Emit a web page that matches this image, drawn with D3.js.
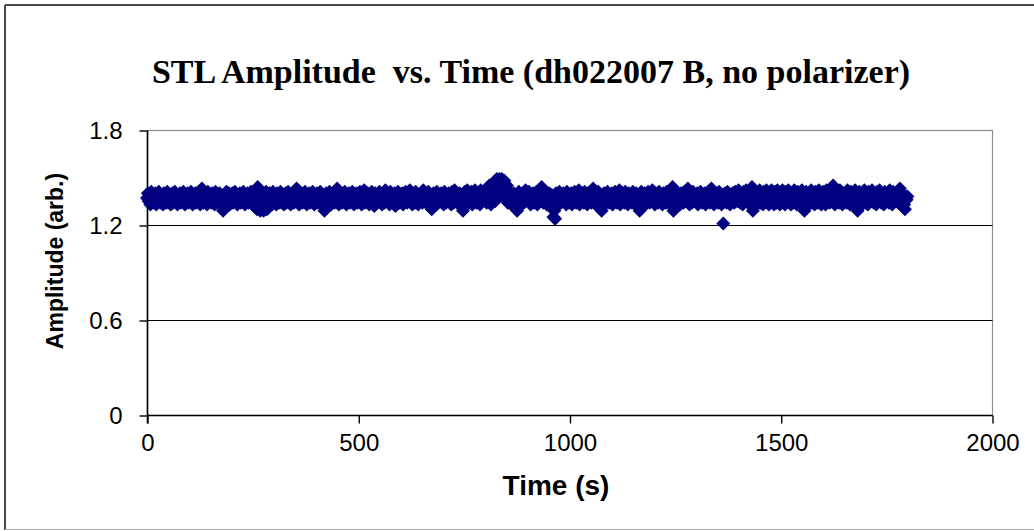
<!DOCTYPE html>
<html>
<head>
<meta charset="utf-8">
<script src="https://cdn.jsdelivr.net/npm/d3@7"></script>
<style>
  html, body { margin: 0; padding: 0; background: #fff; }
  svg { display: block; }
</style>
</head>
<body>
<svg id="chart" width="1034" height="531"></svg>
<script>
// STL amplitude samples, one every 2 s from t = 0 to t = 1800 s (50 samples per row = 100 s)
const sampleStep = 2;
const amplitude = [
  1.37,1.40,1.35,1.38,1.33,1.41,1.36,1.39,1.34,1.37,1.40,1.33,1.38,1.35,1.41,1.36,1.34,1.39,1.37,1.33,1.40,1.36,1.38,1.34,1.41,1.35,1.37,1.39,1.33,1.36,1.40,1.34,1.38,1.41,1.35,1.37,1.33,1.39,1.36,1.40,1.34,1.38,1.35,1.41,1.37,1.33,1.39,1.36,1.40,1.34,
  1.38,1.35,1.41,1.36,1.33,1.39,1.37,1.40,1.34,1.38,1.35,1.41,1.36,1.33,1.39,1.43,1.37,1.34,1.40,1.36,1.38,1.33,1.41,1.35,1.37,1.39,1.34,1.40,1.36,1.38,1.33,1.41,1.35,1.37,1.39,1.34,1.40,1.36,1.38,1.32,1.29,1.36,1.39,1.34,1.41,1.37,1.35,1.40,1.33,1.38,
  1.36,1.40,1.34,1.38,1.41,1.35,1.37,1.33,1.39,1.36,1.40,1.34,1.38,1.35,1.41,1.37,1.33,1.39,1.36,1.40,1.34,1.38,1.35,1.41,1.37,1.33,1.39,1.36,1.40,1.34,1.30,1.44,1.42,1.37,1.29,1.40,1.36,1.33,1.29,1.39,1.35,1.41,1.30,1.37,1.34,1.40,1.36,1.38,1.33,1.41,
  1.35,1.39,1.37,1.33,1.40,1.36,1.38,1.34,1.41,1.35,1.37,1.39,1.33,1.36,1.40,1.34,1.38,1.41,1.35,1.37,1.33,1.39,1.36,1.40,1.34,1.38,1.35,1.43,1.42,1.37,1.33,1.39,1.36,1.40,1.34,1.38,1.35,1.41,1.37,1.33,1.39,1.36,1.40,1.34,1.38,1.35,1.41,1.37,1.33,1.39,
  1.36,1.40,1.34,1.38,1.35,1.41,1.37,1.33,1.39,1.32,1.29,1.36,1.40,1.34,1.38,1.35,1.41,1.37,1.33,1.39,1.36,1.40,1.34,1.38,1.42,1.43,1.37,1.33,1.39,1.36,1.40,1.34,1.38,1.35,1.41,1.37,1.33,1.39,1.36,1.40,1.34,1.38,1.35,1.41,1.37,1.33,1.39,1.36,1.40,1.34,
  1.38,1.35,1.41,1.37,1.33,1.39,1.36,1.42,1.34,1.38,1.35,1.40,1.37,1.33,1.39,1.36,1.41,1.34,1.38,1.32,1.40,1.37,1.34,1.39,1.36,1.41,1.35,1.38,1.33,1.40,1.37,1.34,1.42,1.36,1.39,1.35,1.38,1.33,1.41,1.37,1.34,1.39,1.36,1.40,1.32,1.38,1.35,1.41,1.37,1.34,
  1.39,1.36,1.40,1.33,1.38,1.35,1.41,1.37,1.34,1.39,1.36,1.42,1.35,1.38,1.33,1.40,1.37,1.34,1.41,1.36,1.39,1.33,1.38,1.35,1.40,1.37,1.34,1.42,1.36,1.39,1.35,1.38,1.33,1.41,1.37,1.34,1.32,1.30,1.36,1.40,1.35,1.38,1.33,1.41,1.37,1.34,1.39,1.36,1.40,1.35,
  1.38,1.33,1.41,1.37,1.34,1.39,1.36,1.40,1.35,1.38,1.33,1.41,1.37,1.34,1.42,1.36,1.39,1.35,1.38,1.33,1.40,1.37,1.34,1.32,1.29,1.36,1.41,1.35,1.38,1.42,1.37,1.34,1.39,1.36,1.41,1.33,1.38,1.35,1.42,1.37,1.34,1.40,1.36,1.39,1.33,1.42,1.37,1.35,1.41,1.38,
  1.36,1.40,1.34,1.38,1.41,1.45,1.37,1.33,1.44,1.43,1.36,1.47,1.35,1.45,1.49,1.38,1.44,1.49,1.41,1.45,1.49,1.39,1.44,1.48,1.37,1.43,1.45,1.34,1.38,1.41,1.36,1.33,1.39,1.37,1.40,1.34,1.32,1.38,1.29,1.36,1.41,1.35,1.39,1.33,1.37,1.40,1.34,1.38,1.42,1.36,
  1.39,1.35,1.41,1.37,1.33,1.38,1.36,1.40,1.34,1.39,1.36,1.41,1.33,1.38,1.35,1.40,1.42,1.44,1.37,1.34,1.39,1.36,1.41,1.33,1.38,1.35,1.40,1.37,1.34,1.39,1.30,1.25,1.29,1.24,1.40,1.35,1.38,1.33,1.41,1.37,1.34,1.39,1.36,1.40,1.35,1.38,1.33,1.41,1.37,1.34,
  1.38,1.36,1.40,1.33,1.39,1.35,1.41,1.37,1.34,1.38,1.36,1.42,1.33,1.39,1.35,1.40,1.37,1.34,1.41,1.36,1.38,1.33,1.40,1.35,1.39,1.37,1.34,1.42,1.43,1.36,1.38,1.33,1.40,1.35,1.41,1.37,1.34,1.32,1.29,1.38,1.36,1.40,1.33,1.39,1.35,1.41,1.37,1.34,1.38,1.36,
  1.40,1.33,1.39,1.35,1.41,1.37,1.34,1.38,1.36,1.42,1.33,1.39,1.35,1.40,1.37,1.34,1.41,1.36,1.38,1.33,1.40,1.35,1.39,1.37,1.34,1.41,1.36,1.38,1.33,1.40,1.35,1.39,1.32,1.29,1.37,1.41,1.34,1.38,1.36,1.40,1.33,1.39,1.35,1.41,1.37,1.34,1.38,1.36,1.42,1.35,
  1.39,1.33,1.40,1.36,1.38,1.34,1.41,1.37,1.35,1.39,1.33,1.40,1.36,1.38,1.34,1.41,1.37,1.35,1.39,1.33,1.40,1.42,1.44,1.29,1.36,1.38,1.34,1.41,1.37,1.35,1.39,1.33,1.40,1.36,1.38,1.34,1.41,1.37,1.35,1.39,1.43,1.36,1.33,1.40,1.38,1.34,1.41,1.37,1.35,1.39,
  1.36,1.40,1.33,1.38,1.35,1.41,1.37,1.34,1.39,1.36,1.40,1.33,1.38,1.35,1.41,1.37,1.34,1.42,1.43,1.36,1.39,1.33,1.38,1.35,1.40,1.37,1.34,1.41,1.36,1.39,1.33,1.38,1.21,1.35,1.40,1.37,1.34,1.41,1.36,1.39,1.33,1.38,1.35,1.40,1.37,1.34,1.41,1.36,1.39,1.35,
  1.42,1.37,1.34,1.40,1.36,1.33,1.41,1.38,1.35,1.42,1.37,1.34,1.39,1.36,1.41,1.33,1.44,1.29,1.38,1.42,1.35,1.37,1.33,1.40,1.36,1.42,1.34,1.39,1.37,1.33,1.41,1.36,1.38,1.42,1.34,1.37,1.33,1.40,1.36,1.42,1.35,1.38,1.33,1.41,1.37,1.34,1.42,1.36,1.39,1.33,
  1.40,1.36,1.42,1.34,1.38,1.33,1.41,1.37,1.35,1.42,1.36,1.39,1.33,1.40,1.37,1.34,1.42,1.36,1.38,1.33,1.41,1.35,1.39,1.37,1.34,1.42,1.36,1.32,1.29,1.38,1.41,1.35,1.37,1.33,1.40,1.36,1.42,1.34,1.39,1.37,1.33,1.41,1.36,1.38,1.34,1.42,1.35,1.39,1.33,1.37,
  1.41,1.36,1.38,1.33,1.42,1.35,1.39,1.37,1.34,1.40,1.36,1.43,1.45,1.38,1.33,1.41,1.35,1.39,1.37,1.34,1.42,1.36,1.38,1.33,1.40,1.35,1.39,1.37,1.34,1.42,1.36,1.38,1.33,1.41,1.35,1.39,1.37,1.34,1.42,1.36,1.32,1.29,1.38,1.41,1.35,1.37,1.33,1.40,1.36,1.42,
  1.34,1.39,1.37,1.33,1.41,1.36,1.38,1.35,1.42,1.37,1.34,1.40,1.36,1.33,1.41,1.38,1.35,1.42,1.37,1.34,1.39,1.36,1.33,1.41,1.38,1.35,1.40,1.37,1.34,1.42,1.36,1.39,1.33,1.41,1.37,1.35,1.40,1.36,1.38,1.34,1.42,1.43,1.37,1.35,1.39,1.36,1.33,1.30,1.38,1.36,
  1.38
];

const xTicks = [0, 500, 1000, 1500, 2000];
const yTicks = [0, 0.6, 1.2, 1.8];
const yGridValues = [0.6, 1.2];

const titleText = "STL Amplitude\u00A0\u00A0vs. Time (dh022007 B, no polarizer)";
const xTitle = "Time (s)";
const yTitle = "Amplitude (arb.)";

const svg = d3.select("#chart");
const W = 1034, H = 531;

const plot = { left: 147, right: 992, top: 130, bottom: 415 };

const x = d3.scaleLinear().domain([0, 2000]).range([plot.left, plot.right]);
const y = d3.scaleLinear().domain([0, 1.8]).range([plot.bottom, plot.top]);

// chart area frame
svg.append("rect").attr("x", 0).attr("y", 0).attr("width", W).attr("height", H).attr("fill", "#fff");
svg.append("line").attr("x1", 5).attr("x2", W).attr("y1", 5).attr("y2", 5)
  .attr("stroke", "#4a4a4a").attr("stroke-width", 2);
svg.append("line").attr("x1", 5).attr("x2", 5).attr("y1", 5).attr("y2", 530)
  .attr("stroke", "#4a4a4a").attr("stroke-width", 2);
svg.append("line").attr("x1", 5).attr("x2", W).attr("y1", 529.5).attr("y2", 529.5)
  .attr("stroke", "#b4b4b4").attr("stroke-width", 1);

// plot area border (grey)
svg.append("rect")
  .attr("x", plot.left + 0.5).attr("y", plot.top + 0.5)
  .attr("width", plot.right - plot.left).attr("height", plot.bottom - plot.top)
  .attr("fill", "none").attr("stroke", "#8c8c8c").attr("stroke-width", 1.2);

// horizontal gridlines
svg.append("g").selectAll("line").data(yGridValues).join("line")
  .attr("x1", plot.left).attr("x2", plot.right + 0.5)
  .attr("y1", d => Math.round(y(d)) + 0.5).attr("y2", d => Math.round(y(d)) + 0.5)
  .attr("stroke", "#000").attr("stroke-width", 1.2);

// axes
const tickFont = "'Liberation Sans', Arial, sans-serif";

const xAxis = d3.axisBottom(x).tickValues(xTicks).tickSize(8).tickPadding(10).tickFormat(d3.format("d"));
const gx = svg.append("g").attr("transform", `translate(0.5,${plot.bottom + 0.5})`).call(xAxis);
gx.select(".domain").attr("stroke", "#000").attr("stroke-width", 1.6).attr("d", `M${plot.left},0H${plot.right}`);
gx.selectAll(".tick line").attr("stroke", "#000").attr("stroke-width", 1.4);
gx.selectAll(".tick text").attr("font-family", tickFont).attr("font-size", 24).attr("fill", "#000");

const yAxis = d3.axisLeft(y).tickValues(yTicks).tickSize(8).tickPadding(17)
  .tickFormat(d => d === 0 ? "0" : d3.format(".1f")(d));
const gy = svg.append("g").attr("transform", `translate(${plot.left + 0.5},0.5)`).call(yAxis);
gy.select(".domain").attr("stroke", "#000").attr("stroke-width", 1.6).attr("d", `M0,${plot.top}V${plot.bottom + 8}`);
gy.selectAll(".tick line").attr("stroke", "#000").attr("stroke-width", 1.4);
gy.selectAll(".tick text").attr("font-family", tickFont).attr("font-size", 24).attr("fill", "#000");

// data markers: navy diamonds
const r = 7;
const diamond = `M0,${-r}L${r},0L0,${r}L${-r},0Z`;
svg.append("g").selectAll("path").data(amplitude).join("path")
  .attr("d", diamond)
  .attr("transform", (d, i) => `translate(${x(i * sampleStep)},${y(d)})`)
  .attr("fill", "#000080");

// titles
svg.append("text")
  .attr("x", 531).attr("y", 83)
  .attr("text-anchor", "middle")
  .attr("font-family", "'Liberation Serif', 'Times New Roman', serif")
  .attr("font-weight", "bold").attr("font-size", 34)
  .attr("fill", "#000")
  .text(titleText);

svg.append("text")
  .attr("x", 556).attr("y", 495)
  .attr("text-anchor", "middle")
  .attr("font-family", tickFont).attr("font-weight", "bold").attr("font-size", 28)
  .attr("fill", "#000")
  .text(xTitle);

svg.append("text")
  .attr("transform", "translate(63,261) rotate(-90)")
  .attr("text-anchor", "middle")
  .attr("font-family", tickFont).attr("font-weight", "bold").attr("font-size", 23)
  .attr("fill", "#000")
  .text(yTitle);
</script>
</body>
</html>
